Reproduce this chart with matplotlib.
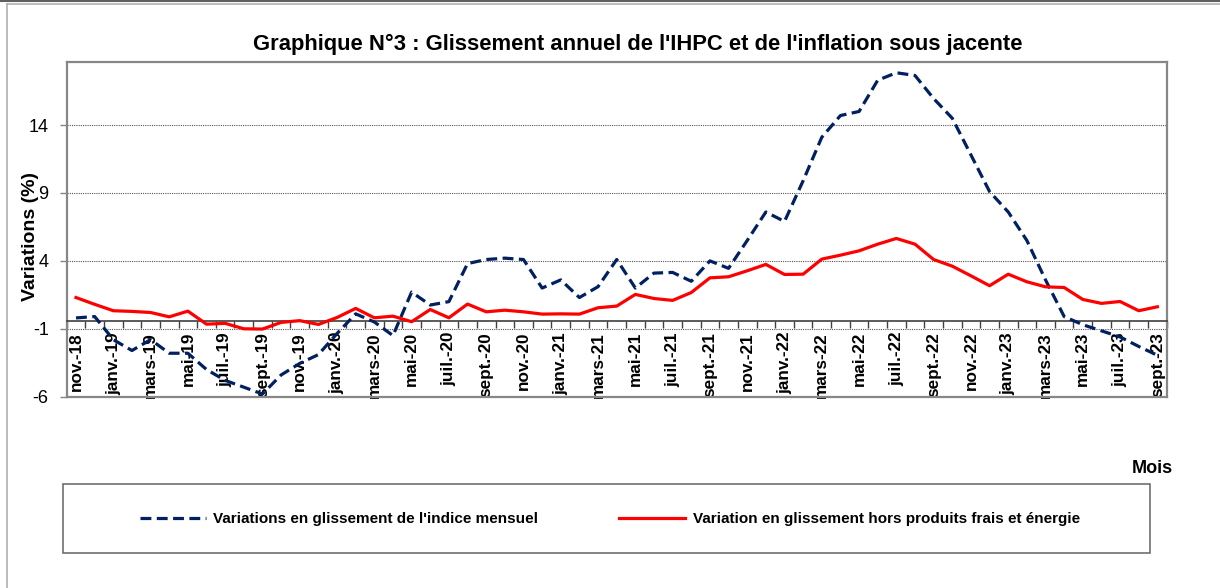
# plot.py
# Graphique N°3 : glissement annuel de l'IHPC et de l'inflation sous jacente.

import numpy as np
import matplotlib
matplotlib.use("Agg")
import matplotlib.pyplot as plt
from matplotlib.patches import Rectangle
from matplotlib.lines import Line2D

# Tick labels, one every two months (nov.-18 -> sept.-23)
tick_labels = [
    "nov.-18", "janv.-19", "mars-19", "mai-19", "juil.-19", "sept.-19",
    "nov.-19", "janv.-20", "mars-20", "mai-20", "juil.-20", "sept.-20",
    "nov.-20", "janv.-21", "mars-21", "mai-21", "juil.-21", "sept.-21",
    "nov.-21", "janv.-22", "mars-22", "mai-22", "juil.-22", "sept.-22",
    "nov.-22", "janv.-23", "mars-23", "mai-23", "juil.-23", "sept.-23",
]

# Monthly year-on-year change of the index (%)
ihpc = [
    -0.2, -0.1, -1.8, -2.6, -1.8, -2.8, -2.8, -4.0, -4.8, -5.3,
    -5.8, -4.4, -3.55, -2.9, -1.35, 0.1, -0.5, -1.5, 1.7,
    0.75, 1.0, 3.8, 4.1, 4.2, 4.1, 2.0, 2.6, 1.3, 2.1,
    4.1, 2.0, 3.1, 3.15, 2.5, 4.0, 3.45, 5.5, 7.6, 6.9, 9.9,
    13.1, 14.7, 15.0, 17.3, 17.85, 17.65, 15.95, 14.5, 11.8, 9.1,
    7.6, 5.5, 2.6, -0.1, -0.7, -1.15, -1.6, -2.3, -2.95,
]

# Core inflation: excluding fresh products and energy (%)
core = [
    1.3, 0.8, 0.33, 0.28, 0.2, -0.12, 0.3, -0.66, -0.6, -1.0,
    -1.02, -0.53, -0.4, -0.68, -0.17, 0.5, -0.19, -0.07, -0.48,
    0.42, -0.19, 0.82, 0.25, 0.37, 0.25, 0.08, 0.1, 0.08, 0.55,
    0.67, 1.53, 1.23, 1.09, 1.67, 2.75, 2.83, 3.27, 3.74, 3.0, 3.02,
    4.13, 4.42, 4.74, 5.23, 5.65, 5.23, 4.1, 3.61, 2.9, 2.17,
    3.02, 2.46, 2.09, 2.04, 1.16, 0.87, 1.01, 0.33, 0.62,
]

y_ticks = [-6, -1, 4, 9, 14]

plt.rcParams["font.family"] = ["Liberation Sans", "DejaVu Sans"]
plt.rcParams["axes.unicode_minus"] = False

BLUE = "#002060"
RED = "#ff0000"
FRAME = "#878787"
AXIS = "#404040"

fig = plt.figure(figsize=(12.2, 5.88), dpi=100)
ax = fig.add_axes([0.05467, 0.32534, 0.90164, 0.56871])

x = np.arange(len(ihpc))
ax.plot(x, ihpc, color=BLUE, lw=2.3, dashes=(3.4, 1.7), zorder=3,
        label="Variations en glissement de l'indice mensuel")
ax.plot(x, core, color=RED, lw=2.3, zorder=3,
        label="Variation en glissement hors produits frais et énergie")

ax.set_xlim(-0.5, len(ihpc) - 0.5)
ax.set_ylim(-6, 18.62)

# y axis
ax.set_yticks(y_ticks)
ax.tick_params(axis="y", direction="out", length=5, width=1, color=FRAME,
               pad=8, labelsize=13)
ax.yaxis.grid(True, linestyle=(0, (1, 1)), color="#555555", lw=0.8)
ax.set_axisbelow(True)
ax.set_ylabel("Variations (%)", fontsize=14, fontweight="bold")
ax.yaxis.set_label_coords(-0.025, 0.478)

# x axis crossing at about -0.4
ax.spines["bottom"].set_position(("data", -0.41))
ax.spines["bottom"].set_color(AXIS)
ax.spines["bottom"].set_linewidth(1.2)
ax.set_xticks(x[::2])
ax.set_xticklabels(tick_labels, rotation=90, fontsize=12.3, fontweight="bold")
ax.set_xticks(np.arange(len(ihpc) + 1) - 0.5, minor=True)
ax.tick_params(axis="x", which="major", length=0, pad=8)
ax.tick_params(axis="x", which="minor", direction="out", length=5,
               width=1, color=AXIS)

for side in ["left", "top", "right"]:
    ax.spines[side].set_color(FRAME)
    ax.spines[side].set_linewidth(1.6)
ax.plot([0, 1], [0, 0], transform=ax.transAxes, color=FRAME, lw=1.6,
        clip_on=False, zorder=4)

ax.set_title("Graphique N°3 : Glissement annuel de l'IHPC et de l'inflation sous jacente",
             fontsize=15.8, fontweight="bold", pad=9, x=0.519)

fig.text(0.9615, 0.204, "Mois", ha="right", va="center",
         fontsize=13, fontweight="bold")

# legend box
fig.patches.append(Rectangle((0.0514, 0.0600), 0.8914, 0.1163,
                             transform=fig.transFigure, fill=False,
                             edgecolor="#6f6f6f", lw=1.2))
handles, labels = ax.get_legend_handles_labels()
fig.legend(handles, labels, loc="center", bbox_to_anchor=(0.500, 0.117),
           ncol=2, frameon=False, prop={"size": 11, "weight": "bold"},
           handlelength=4.3, handletextpad=0.5, columnspacing=5.3)

# outer chart border
fig.add_artist(Line2D([0.0055, 0.0055], [0, 0.993], color="#b0b0b0", lw=1.2))
fig.add_artist(Line2D([0.0055, 1], [0.993, 0.993], color="#b0b0b0", lw=1.2))
fig.add_artist(Line2D([0, 1], [0.999, 0.999], color="#606060", lw=1.5))

fig.savefig("out.png", dpi=100)
